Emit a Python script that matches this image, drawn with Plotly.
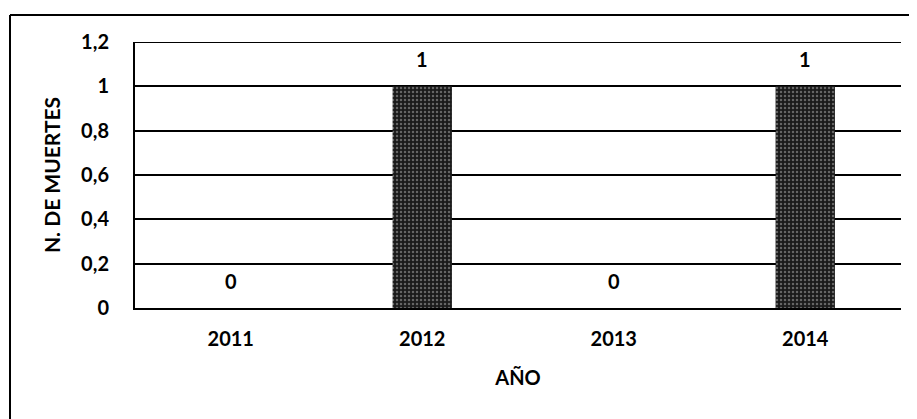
import plotly.graph_objects as go

years = ["2011", "2012", "2013", "2014"]
deaths = [0, 1, 0, 1]
y_ticks = [0, 0.2, 0.4, 0.6, 0.8, 1, 1.2]

# page body has an 8px margin, so the figure is a bit smaller than the window
W, H = 909, 411
ML, MR, MT, MB = 127, 16, 34, 111
pw = W - ML - MR
ph = H - MT - MB

font_main = "Lato, 'Open Sans', sans-serif"

fig = go.Figure()

fig.add_trace(go.Bar(
    x=years,
    y=deaths,
    width=0.31,
    marker=dict(
        color="#3a3a3a",
        line=dict(color="#000000", width=0),
        pattern=dict(shape=".", fgcolor="#b0b0b0", bgcolor="#1a1a1a",
                     size=4, solidity=0.3),
    ),
    showlegend=False,
))

# value labels above each bar (category axis -> use category index)
for i, v in enumerate(deaths):
    fig.add_annotation(x=i, y=v, text=str(v), showarrow=False,
                       yshift=27, font=dict(size=20, color="#000000",
                                            family=font_main, weight="bold"))

fig.update_layout(
    width=W,
    height=H,
    margin=dict(l=ML, r=MR, t=MT, b=MB),
    paper_bgcolor="white",
    plot_bgcolor="white",
    separators=",.",
    font=dict(family=font_main, color="#000000"),
    xaxis=dict(
        type="category",
        showgrid=False,
        showline=True,
        linecolor="black",
        linewidth=2,
        tickfont=dict(size=20, family=font_main, weight="bold"),
        ticks="",
        ticklabelstandoff=12,
        title=dict(text="AÑO", font=dict(size=20, family=font_main, weight="bold"), standoff=22),
    ),
    yaxis=dict(
        range=[0, 1.2],
        tickvals=y_ticks,
        showgrid=True,
        gridcolor="black",
        gridwidth=2,
        showline=True,
        linecolor="black",
        linewidth=2,
        zeroline=False,
        ticks="",
        ticklabelstandoff=20,
        tickfont=dict(size=20, family=font_main, weight="bold"),
        title=dict(text="N. DE MUERTES", font=dict(size=21, family=font_main, weight="bold"), standoff=15),
    ),
)

# top gridline at 1.2 (the edge of the range)
fig.add_shape(type="line", xref="paper", yref="y", x0=0, x1=1, y0=y_ticks[-1], y1=y_ticks[-1],
              line=dict(color="black", width=2))

# outer frame of the scanned figure (left and top edges)
fx0 = (2 - ML) / pw
fy_top = 1 + (MT - 7) / ph
fy_bot = -(MB) / ph
fig.add_shape(type="line", xref="paper", yref="paper",
              x0=fx0, x1=fx0, y0=fy_bot, y1=fy_top,
              line=dict(color="black", width=2))
fig.add_shape(type="line", xref="paper", yref="paper",
              x0=fx0, x1=1 + (MR - 2) / pw, y0=fy_top, y1=fy_top,
              line=dict(color="black", width=2))

fig.write_html("out.html")
